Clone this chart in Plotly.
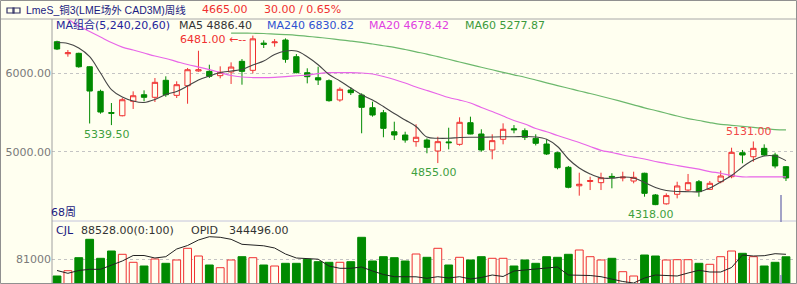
import plotly.graph_objects as go

W, H = 797, 284
BG = "#fffff0"
RED = "#f03030"
GRN = "#008a00"
LGRN = "#3ea03e"
NAVY = "#1a1a80"

idx = list(range(68))
opens = [6403, 6250, 6255, 6084, 5770, 5500, 5459, 5643, 5727, 5694, 5911, 5719, 5842, 6030, 6025, 5970, 6017, 6153, 6038, 6385,
         6390, 6425, 6212, 6008, 5944, 5906, 5660, 5787, 5723, 5561, 5497, 5255, 5213, 5128, 5149, 5009, 5125, 5094, 5370, 5226,
         5022, 5158, 5292, 5268, 5170, 5098, 4987, 4801, 4565, 4620, 4605, 4685, 4665, 4626, 4725, 4448, 4335, 4457, 4511, 4617,
         4520, 4617, 4681, 4987, 4936, 5043, 4958, 4809]
highs = [6416, 6297, 6263, 6090, 5791, 5621, 5685, 5770, 5783, 5940, 5962, 5898, 6068, 6288, 6110, 6089, 6140, 6182, 6481, 6421,
         6437, 6446, 6246, 6064, 6084, 5923, 5821, 5821, 5745, 5638, 5532, 5383, 5255, 5350, 5170, 5191, 5306, 5439, 5447, 5286,
         5222, 5362, 5340, 5298, 5222, 5158, 5000, 4818, 4732, 4681, 4732, 4725, 4745, 4745, 4732, 4460, 4469, 4617, 4716, 4639,
         4626, 4758, 5051, 5022, 5131, 5094, 4987, 4818]
lows = [6297, 6212, 6071, 5360, 5485, 5339.5, 5451, 5545, 5643, 5634, 5700, 5685, 5612, 6020, 5940, 5936, 5864, 5855, 6000, 6323,
        6340, 6135, 6000, 5872, 5851, 5638, 5638, 5723, 5235, 5447, 5184, 5149, 5115, 5064, 4980, 4855, 5030, 5077, 5222, 5000,
        4903, 5094, 5235, 5149, 5080, 4958, 4775, 4533, 4439, 4511, 4511, 4533, 4622, 4597, 4426, 4318, 4325, 4405, 4490, 4426,
        4511, 4597, 4661, 4852, 4872, 4945, 4788, 4626]
closes = [6310, 6262, 6084, 5774, 5506, 5490, 5663, 5714, 5694, 5885, 5727, 5855, 6046, 6045, 5962, 6013, 6080, 6025, 6440, 6370,
          6400, 6178, 6008, 5957, 5915, 5651, 5796, 5753, 5566, 5468, 5298, 5213, 5149, 5184, 5056, 5128, 5115, 5375, 5226, 5022,
          5141, 5286, 5280, 5184, 5107, 4971, 4796, 4546, 4585, 4632, 4668, 4675, 4675, 4673, 4469, 4325, 4440, 4563, 4605, 4490,
          4597, 4690, 4992, 4958, 5043, 4958, 4818, 4665]

ma5 = [6393, 6380, 6323, 6212, 6004, 5793, 5698, 5647, 5628, 5666, 5730, 5768, 5838, 5915, 5966, 6010, 6029, 6048, 6106, 6157,
       6240, 6284, 6284, 6212, 6110, 5985, 5902, 5813, 5727, 5660, 5576, 5487, 5404, 5321, 5187, 5171, 5171, 5181, 5184, 5184,
       5188, 5191, 5191, 5194, 5188, 5158, 5066, 4907, 4792, 4716, 4665, 4661, 4677, 4665, 4607, 4543, 4505, 4492, 4490, 4490,
       4537, 4614, 4696, 4805, 4894, 4945, 4945, 4886.4]
ma20 = [6760, 6690, 6603, 6533, 6463, 6393, 6335, 6297, 6259, 6221, 6189, 6150, 6112, 6080, 6048, 6010, 5972, 5953, 5946, 5944,
        5949, 5959, 5969, 5978, 5997, 6008, 6008, 6008, 6004, 5991, 5959, 5921, 5876, 5825, 5781, 5736, 5691, 5659, 5621, 5564,
        5513, 5455, 5398, 5353, 5296, 5255, 5207, 5162, 5117, 5066, 5018, 4990, 4958, 4932, 4907, 4875, 4849, 4824, 4801, 4777,
        4747, 4725, 4697, 4678.42, 4678.42, 4678.42, 4678.42, 4678.42]
ma60 = [None] * 16 + [6514, 6513, 6511, 6508, 6501, 6494, 6485, 6472, 6459, 6444, 6427, 6412, 6395, 6374, 6352, 6332, 6304, 6274,
        6246, 6212, 6179, 6144, 6110, 6077, 6045, 6013, 5981, 5950, 5915, 5879, 5844, 5810, 5774, 5742, 5708, 5672, 5636, 5598,
        5560, 5526, 5491, 5455, 5423, 5398, 5372, 5349, 5337, 5324, 5311, 5296, 5281, 5277.87]

volume = [30900, 46800, 85800, 141000, 84000, 105900, 96000, 72000, 60900, 81900, 69000, 78900, 114000, 90900, 63900, 55800,
          78900, 88800, 85800, 63900, 60900, 69000, 69000, 81000, 73800, 72000, 72000, 73800, 147000, 75900, 88800, 85800,
          75900, 96900, 87000, 114000, 63900, 87000, 78900, 88800, 84000, 84000, 60900, 78900, 69000, 88800, 87000, 96000,
          108900, 88800, 78900, 84000, 43800, 30900, 93900, 90900, 78900, 79800, 79800, 69000, 66000, 88800, 105900, 99000,
          88800, 60900, 72000, 88528]
opid = [312100, 306500, 312100, 314500, 314500, 322100, 331100, 342100, 342100, 337100, 339700, 355100, 362100, 373100,
        379700, 378500, 374500, 364500, 363100, 361500, 357100, 345100, 337100, 335700, 334700, 321100, 316500, 316500,
        319100, 311100, 304100, 299700, 299100, 299500, 296500, 299700, 297100, 299700, 295100, 298100, 303100, 300100,
        311100, 313100, 314100, 317100, 319100, 303100, 303100, 302100, 299700, 295100, 290100, 287100, 297100, 303100,
        302100, 301100, 307100, 312500, 309100, 309100, 318100, 343100, 341100, 341700, 345700, 344496]

price_ticks = [5000, 6000]
price_tick_text = ["5000.00", "6000.00"]
vol_ticks = [81000]
vol_tick_text = ["81000"]


def px(x):
    return x / W


def py(y):
    return 1 - y / H


fig = go.Figure()

fig.add_trace(go.Candlestick(
    x=idx, open=opens, high=highs, low=lows, close=closes,
    increasing=dict(line=dict(color=RED, width=1), fillcolor=BG),
    decreasing=dict(line=dict(color=GRN, width=1), fillcolor=GRN),
    xaxis="x", yaxis="y", showlegend=False, hoverinfo="skip"))

fig.add_trace(go.Scatter(x=idx, y=ma20, mode="lines", line=dict(color="#e866e8", width=1.2, shape="spline"),
                         xaxis="x", yaxis="y", showlegend=False, hoverinfo="skip"))
fig.add_trace(go.Scatter(x=idx, y=ma60, mode="lines", line=dict(color="#6cb86c", width=1.2, shape="spline"),
                         xaxis="x", yaxis="y", showlegend=False, hoverinfo="skip"))
fig.add_trace(go.Scatter(x=idx, y=ma5, mode="lines", line=dict(color="#454545", width=1.1, shape="spline"),
                         xaxis="x", yaxis="y", showlegend=False, hoverinfo="skip"))

up = [c >= o for o, c in zip(opens, closes)]
fig.add_trace(go.Bar(
    x=idx, y=volume, width=0.72,
    marker=dict(color=[BG if u else GRN for u in up],
                line=dict(color=[RED if u else GRN for u in up], width=1)),
    xaxis="x2", yaxis="y2", showlegend=False, hoverinfo="skip"))
fig.add_trace(go.Scatter(x=idx, y=opid, mode="lines", line=dict(color="#222222", width=1),
                         xaxis="x2", yaxis="y3", showlegend=False, hoverinfo="skip"))

xdom = [px(52), px(795)]
xr = [-0.46, 67.83]
tickfont = dict(family="DejaVu Sans", size=11, color="#7a7a7a")

fig.update_layout(
    width=W, height=H, margin=dict(l=0, r=0, t=0, b=0),
    paper_bgcolor=BG, plot_bgcolor=BG,
    showlegend=False, bargap=0.3,
    xaxis=dict(domain=xdom, range=xr, visible=False, rangeslider=dict(visible=False), anchor="y"),
    xaxis2=dict(domain=xdom, range=xr, visible=False, matches="x", anchor="y2"),
    yaxis=dict(domain=[py(221), py(19)], range=[4116, 6693], tickvals=price_ticks, ticktext=price_tick_text,
               showgrid=True, gridcolor="#c4c4c4", griddash="dot", gridwidth=1, zeroline=False,
               tickfont=tickfont, ticks="", showline=False, automargin=False, anchor="x"),
    yaxis2=dict(domain=[0, py(221)], range=[6900, 195900], tickvals=vol_ticks, ticktext=vol_tick_text,
                showgrid=True, gridcolor="#c4c4c4", griddash="dot", gridwidth=1, zeroline=False,
                tickfont=tickfont, ticks="", showline=False, automargin=False, anchor="x2"),
    yaxis3=dict(domain=[0, py(221)], range=[285096, 411096], overlaying="y2", visible=False, anchor="x2"),
)

shapes = [
    dict(type="line", xref="paper", yref="paper", x0=0, x1=1, y0=py(19), y1=py(19), line=dict(color="#a8a8a8", width=1)),
    dict(type="line", xref="paper", yref="paper", x0=px(52), x1=1, y0=py(221), y1=py(221), line=dict(color="#c4c4dc", width=1)),
    dict(type="line", xref="paper", yref="paper", x0=px(52), x1=px(52), y0=0, y1=py(19), line=dict(color="#a0a0a0", width=1)),
    dict(type="rect", xref="paper", yref="paper", x0=px(0.5), x1=px(796.5), y0=py(283.5), y1=py(0.5),
         line=dict(color="#909090", width=1)),
    dict(type="line", xref="paper", yref="paper", x0=px(781), x1=px(781), y0=py(195), y1=py(222), line=dict(color="#8484b8", width=1.5)),
    dict(type="line", xref="paper", yref="paper", x0=px(781), x1=px(781), y0=py(275), y1=0, line=dict(color="#8484b8", width=1.5)),
    dict(type="rect", xref="paper", yref="paper", x0=px(7), x1=px(14), y0=py(13), y1=py(8), line=dict(color="#333366", width=1.2)),
    dict(type="rect", xref="paper", yref="paper", x0=px(13), x1=px(20), y0=py(13), y1=py(8), line=dict(color="#333366", width=1.2)),
]
fig.update_layout(shapes=shapes)

FONT = "DejaVu Sans, Noto Sans CJK SC"


def ptext(x, y, s, color, size=11, family=FONT):
    return dict(xref="paper", yref="paper", x=px(x), y=py(y), text=s, showarrow=False, xanchor="left",
                yanchor="middle", font=dict(family=family, size=size, color=color), borderpad=0)


ann = [
    ptext(25, 10, "LmeS_铜3(LME场外 CAD3M)周线", NAVY, 10.5, "Liberation Sans, Noto Sans CJK SC"),
    ptext(201, 10, "4665.00", RED, 11),
    ptext(263, 10, "30.00 / 0.65%", RED, 11),
    ptext(55, 25, "MA组合(5,240,20,60)", "#24249a", 11),
    ptext(178, 25, "MA5 4886.40", "#333333", 11),
    ptext(266, 25, "MA240 6830.82", "#2f52d0", 11),
    ptext(368, 25, "MA20 4678.42", "#e040e0", 11),
    ptext(464, 25, "MA60 5277.87", "#3c9a3c", 11),
    ptext(50, 212, "68周", NAVY, 11),
    ptext(55, 230, "CJL", NAVY, 11),
    ptext(80, 230, "88528.00(0:100)", "#333333", 11),
    ptext(190, 230, "OPID", "#333333", 11),
    ptext(228, 230, "344496.00", "#333333", 11),
]


def dtext(i, v, s, color, yanchor, xanchor="center", xshift=0, yshift=0):
    return dict(xref="x", yref="y", x=i, y=v, text=s, showarrow=False, xanchor=xanchor, yanchor=yanchor,
                xshift=xshift, yshift=yshift, font=dict(family=FONT, size=11, color=color))


ann += [
    dtext(18 - 0.45, highs[18], "6481.00 ←--", RED, "middle", xanchor="right", yshift=-4),
    dtext(5, lows[5], "5339.50", LGRN, "top", xshift=-4, yshift=-1),
    dtext(35, lows[35], "4855.00", LGRN, "top", xshift=-4, yshift=-1),
    dtext(55, lows[55], "4318.00", LGRN, "top", xshift=-4, yshift=-1),
    dtext(64, highs[64], "5131.00", "#f04848", "bottom", xshift=-4, yshift=1),
]
fig.update_layout(annotations=ann)

fig.write_html("out.html")
